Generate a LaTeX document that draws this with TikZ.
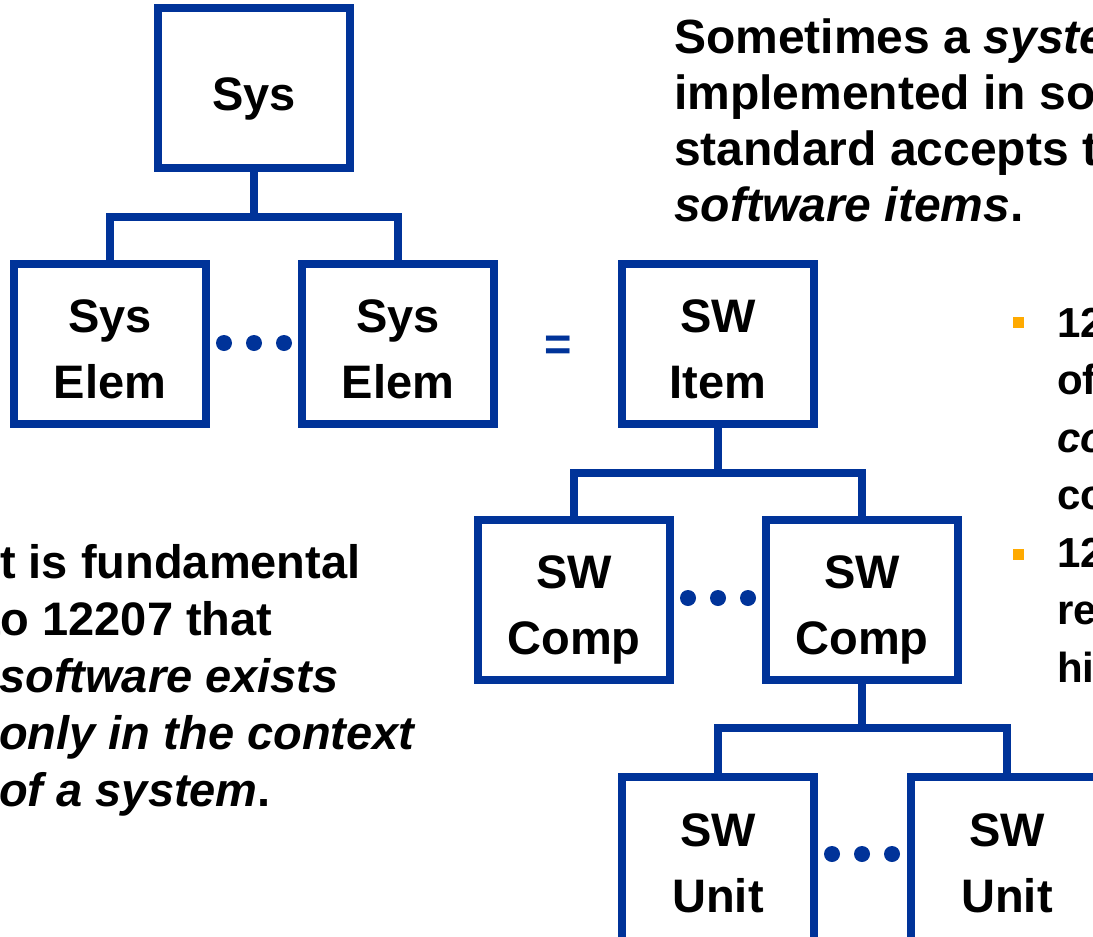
\documentclass[tikz,border=0pt]{standalone}
\usepackage{fontspec}
\setmainfont{Liberation Sans}
\definecolor{treeblue}{RGB}{0,51,153}
\definecolor{bulletorange}{RGB}{255,170,0}

\tikzset{
  treebox/.style={draw=treeblue, line width=8pt, rectangle, inner sep=0pt,
    outer sep=0pt, minimum width=192pt, minimum height=160pt, align=center,
    font=\fontsize{47}{66}\selectfont\bfseries},
  oneline/.style={text height=44pt, text depth=0pt},
  twoline/.style={text height=108pt, text depth=0pt},
  treeline/.style={treeblue, line width=8pt},
  treedot/.style={circle, fill=treeblue, inner sep=0pt, minimum size=16pt},
  bodytext/.style={anchor=base west, align=left, inner sep=0pt,
    font=\fontsize{47}{57}\selectfont\bfseries},
  bullettext/.style={anchor=base west, align=left, inner sep=0pt,
    font=\fontsize{42}{57.5}\selectfont\bfseries},
  bulletsq/.style={rectangle, fill=bulletorange, inner sep=0pt, minimum size=11pt}
}

\begin{document}
\begin{tikzpicture}[x=1pt, y=-1pt]
\path[use as bounding box] (0,0) rectangle (1093,937);
\clip (0,0) rectangle (1093,937);

% system side
\node[treebox, oneline] (sys) at (254,88) {Sys};
\node[treebox, twoline] (elemA) at (110,344) {Sys\\Elem};
\node[treebox, twoline] (elemB) at (398,344) {Sys\\Elem};
\coordinate (barsys) at (254,217);
\draw[treeline] (sys.south) -- (barsys);
\draw[treeline] (elemA.north) -- (elemA.north |- barsys) -- (elemB.north |- barsys) -- (elemB.north);
\foreach \x in {224,254,284}
  \node[treedot] (sysdot\x) at (\x,343) {};

\node[text=treeblue, font=\fontsize{47}{57}\selectfont\bfseries] (eq) at (558,348) {=};

% software side
\node[treebox, twoline] (item) at (718,344) {SW\\Item};
\node[treebox, twoline] (compA) at (574,600) {SW\\Comp};
\node[treebox, twoline] (compB) at (862,600) {SW\\Comp};
\coordinate (baritem) at (718,473);
\draw[treeline] (item.south) -- (baritem);
\draw[treeline] (compA.north) -- (compA.north |- baritem) -- (compB.north |- baritem) -- (compB.north);
\foreach \x in {688,718,748}
  \node[treedot] (compdot\x) at (\x,598) {};

\node[treebox, twoline, text height=94pt, minimum height=176pt, yshift=-8pt] (unitA) at (718,857) {SW\\Unit};
\node[treebox, twoline, text height=94pt, minimum height=176pt, yshift=-8pt] (unitB) at (1007,857) {SW\\Unit};
\coordinate (barcomp) at (862,728);
\draw[treeline] (compB.south) -- (barcomp);
\draw[treeline] (unitA.north) -- (unitA.north |- barcomp) -- (unitB.north |- barcomp) -- (unitB.north);
\foreach \x in {832,862,892}
  \node[treedot] (unitdot\x) at (\x,854) {};

% texts
\node[bodytext, font=\fontsize{48}{56}\selectfont\bfseries] (note) at (674,221)
  {Sometimes a \textit{syste}\\implemented in so\\standard accepts t\\\textit{software items}.};
\node[bodytext] (fund) at (-1,806)
  {\hspace*{1pt}t is fundamental\\\hspace*{-14pt}to 12207 that\\\textit{software exists}\\\textit{only in the context}\\\textit{of a system}.};

\node[bulletsq] (bulA) at (1018.5,322.5) {};
\node[bulletsq] (bulB) at (1018.5,554) {};
\node[bullettext] (bulAtext) at (1057,509.5) {12\\of\\\textit{co}\\co};
\node[bullettext] (bulBtext) at (1057,682) {12\\re\\hi};
\end{tikzpicture}
\end{document}
